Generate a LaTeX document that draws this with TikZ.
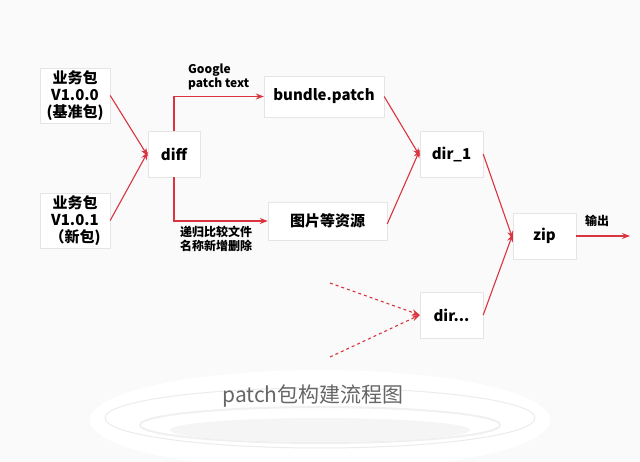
\documentclass[tikz,border=0pt]{standalone}
\usepackage{fontspec}
\setmainfont{Noto Sans CJK SC}
\usetikzlibrary{arrows.meta}
\definecolor{ared}{HTML}{D9343F}
\tikzset{
 box/.style={draw=gray!20,fill=white,minimum width=#1,inner sep=0pt,font=\bfseries\fontsize{15}{17}\selectfont,align=center},
 arr/.style={draw=ared,line width=1.1pt,-{Stealth[length=8pt,width=6pt]}},
 lab/.style={font=\bfseries\fontsize{12}{13.5}\selectfont,align=left,anchor=west,inner sep=0pt}
}
\begin{document}
\begin{tikzpicture}[x=1pt,y=-1pt]
\fill[gray!4] (0,0) rectangle (640,462);
\useasboundingbox (0,0) rectangle (640,462);
\fill[white] (320,420) ellipse (230 and 50);
\draw[gray!15,line width=1pt] (320,418) ellipse (215 and 30);
\draw[gray!12,line width=2pt] (320,425) ellipse (180 and 18);
\fill[gray!8] (320,430) ellipse (150 and 12);
\node[box=70pt,minimum height=55pt] (a) at (75,95.5) {业务包\\V1.0.0\\(基准包)};
\node[box=70pt,minimum height=55pt] (b) at (75,220.5) {业务包\\V1.0.1\\（新包)};
\node[box=52pt,minimum height=46pt] (d) at (174,154) {diff};
\node[box=120pt,minimum height=41pt] (bp) at (324,96.5) {bundle.patch};
\node[box=119pt,minimum height=38pt] (im) at (327.5,221) {图片等资源};
\node[box=63pt,minimum height=46pt] (d1) at (451.5,154) {dir\_1};
\node[box=63pt,minimum height=46pt] (z) at (544.5,236) {zip};
\node[box=63pt,minimum height=46pt] (dn) at (451.5,315) {dir...};
\coordinate (o) at (630,236);
\coordinate (p1) at (330,283);
\coordinate (p2) at (330,357);
\draw[arr] (a.east) -- ([yshift=-2pt]d.west);
\draw[arr] (b.east) -- ([yshift=2pt]d.west);
\draw[arr] (d.north) |- (bp.west);
\draw[arr] (d.south) |- (im.west);
\draw[arr] (bp.east) -- ([yshift=-2pt]d1.west);
\draw[arr] ([yshift=-3pt]im.east) -- ([yshift=4pt]d1.west);
\draw[arr] (d1.east) -- ([yshift=-3pt]z.west);
\draw[arr] (dn.east) -- ([yshift=2pt]z.west);
\draw[arr] (z.east) -- (o);
\draw[arr,dashed] (p1) -- (dn.west);
\draw[arr,dashed] (p2) -- (dn.west);
\node[lab] (l1) at (188,77) {Google\\patch text};
\node[lab] (l2) at (180,239) {递归比较文件\\名称新增删除};
\node[lab] (l3) at (585,221) {输出};
\node[font=\fontsize{21}{23}\selectfont,text=gray!80!black] (t) at (313,396) {patch包构建流程图};
\end{tikzpicture}
\end{document}
